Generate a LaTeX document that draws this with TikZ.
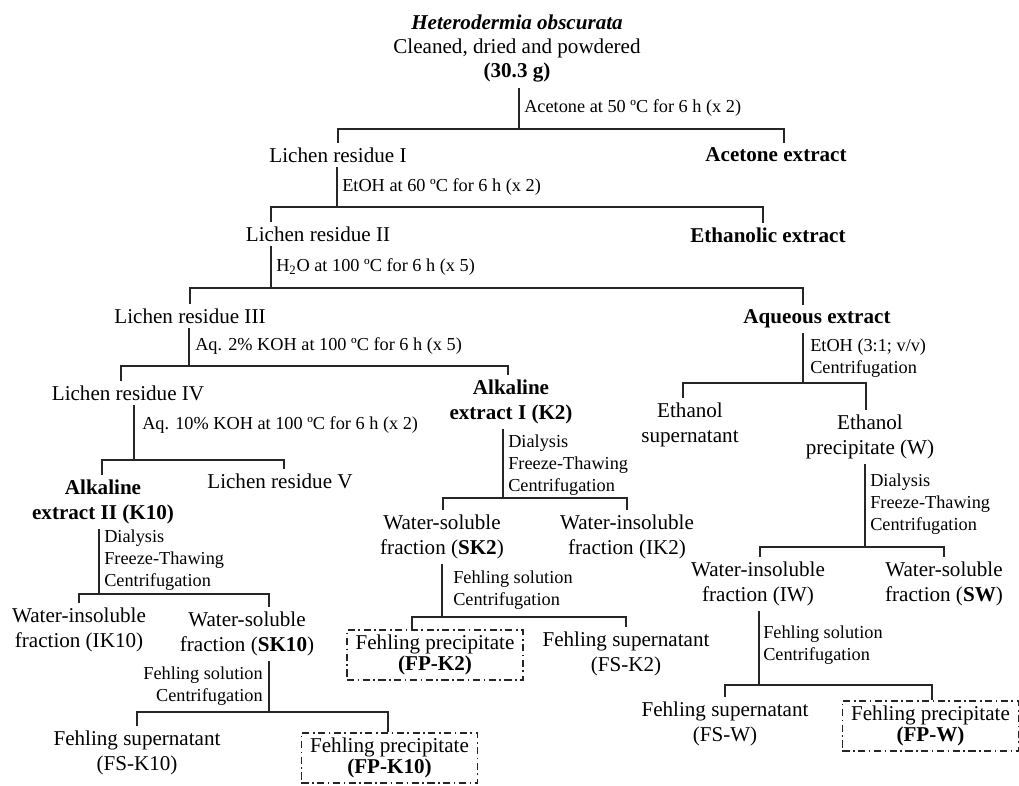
\documentclass[tikz,border=0pt]{standalone}
\usepackage{fontspec}
\setmainfont{Liberation Serif}
\newcommand{\mainsize}{\fontsize{15}{17.4}\selectfont}
\newcommand{\labelsize}{\fontsize{13}{15.5}\selectfont}

\begin{document}
\begin{tikzpicture}[x=0.025cm,y=-0.025cm,
                    link/.style={draw=black!85,line width=0.9pt},
                    main node/.style={font=\mainsize,align=center,inner sep=3.3pt},
                    bold node/.style={main node,font=\mainsize\bfseries},
                    cond label/.style={font=\labelsize,align=left,anchor=west,inner sep=0pt},
                    box node/.style={font=\fontsize{15}{15}\selectfont,align=center,draw=black!85,line width=1.1pt,
                                     dash pattern=on 5pt off 2.5pt on 1.2pt off 2.5pt,
                                     minimum width=4.4cm,minimum height=1.24cm,inner sep=0pt}]
  \useasboundingbox (0,0) rectangle (1019,785);

  \node[main node] (src) at (517,48.5) {\textbf{\textit{Heterodermia obscurata}}\\Cleaned, dried and powdered\\\textbf{(30.3 g)}};
  \node[main node] (res1) at (338,155) {Lichen residue I};
  \node[bold node] (acet) at (776,155) {Acetone extract};
  \node[main node] (res2) at (318,234) {Lichen residue II};
  \node[bold node] (ethx) at (768,235) {Ethanolic extract};
  \node[main node] (res3) at (190,316) {Lichen residue III};
  \node[bold node] (aqx) at (817,319) {Aqueous extract};
  \node[main node] (res4) at (128,393) {Lichen residue IV};
  \node[bold node] (alk1) at (511,402) {Alkaline\\extract I (K2)};
  \node[bold node] (alk2) at (103,502) {Alkaline\\extract II (K10)};
  \node[main node] (res5) at (280,481) {Lichen residue V};
  \node[main node] (ik10) at (79,630) {Water-insoluble\\fraction (IK10)};
  \node[main node] (sk10) at (247,634) {Water-soluble\\fraction (\textbf{SK10})};
  \node[main node] (fsk10) at (137,753) {Fehling supernatant\\(FS-K10)};
  \node[box node] (fpk10) at (389.5,758) {Fehling precipitate\\\textbf{(FP-K10)}};
  \node[main node] (sk2) at (442,537) {Water-soluble\\fraction (\textbf{SK2})};
  \node[main node] (ik2) at (627,537) {Water-insoluble\\fraction (IK2)};
  \node[box node] (fpk2) at (435,655) {Fehling precipitate\\\textbf{(FP-K2)}};
  \node[main node] (fsk2) at (626,654) {Fehling supernatant\\(FS-K2)};
  \node[main node] (etsup) at (690,425) {Ethanol\\supernatant};
  \node[main node] (etpre) at (870,437) {Ethanol\\precipitate (W)};
  \node[main node] (iw) at (758,584) {Water-insoluble\\fraction (IW)};
  \node[main node] (sw) at (944,584) {Water-soluble\\fraction (\textbf{SW})};
  \node[main node] (fsw) at (725,724) {Fehling supernatant\\(FS-W)};
  \node[box node] (fpw) at (930.5,726) {Fehling precipitate\\\textbf{(FP-W)}};

  % conditions on the stems
  \node[cond label] (c1) at (524,108) {Acetone at 50 ºC for 6 h (x 2)};
  \node[cond label] (c2) at (342,187.5) {EtOH at 60 ºC for 6 h (x 2)};
  \node[cond label] (c3) at (276,267.5) {H\textsubscript{2}O at 100 ºC for 6 h (x 5)};
  \node[cond label] (c4) at (195,346.5) {Aq. 2\% KOH at 100 ºC for 6 h (x 5)};
  \node[cond label] (c5) at (142,424.5) {Aq. 10\% KOH at 100 ºC for 6 h (x 2)};
  \node[cond label] (c6) at (104,560) {Dialysis\\Freeze-Thawing\\Centrifugation};
  \node[cond label,anchor=east,align=right] (c7) at (263,686) {Fehling solution\\Centrifugation};
  \node[cond label] (c8) at (508,465) {Dialysis\\Freeze-Thawing\\Centrifugation};
  \node[cond label] (c9) at (453,590) {Fehling solution\\Centrifugation};
  \node[cond label] (c10) at (810,358) {EtOH (3:1; v/v)\\Centrifugation};
  \node[cond label] (c11) at (870,504) {Dialysis\\Freeze-Thawing\\Centrifugation};
  \node[cond label] (c12) at (763,645) {Fehling solution\\Centrifugation};

  % branch points
  \coordinate (j1) at (519,129);
  \coordinate (j2) at (337,207);
  \coordinate (j3) at (271,288);
  \coordinate (j4) at (189,366);
  \coordinate (j5) at (134,460);
  \coordinate (j6) at (99,594);
  \coordinate (j7) at (269,712);
  \coordinate (j8) at (503,498);
  \coordinate (j9) at (442,617);
  \coordinate (j10) at (803,383);
  \coordinate (j11) at (865,547);
  \coordinate (j12) at (759,685);

  \draw[link] (src.south -| j1) -- (j1);
  \draw[link] (res1.north -| 338,0) |- (j1) -| (acet.north -| 784,0);
  \draw[link] (res1.south -| j2) -- (j2);
  \draw[link] (res2.north -| 271,0) |- (j2) -| (ethx.north -| 763,0);
  \draw[link] (res2.south -| j3) -- (j3);
  \draw[link] (res3.north -| 190,0) |- (j3) -| (aqx.north -| 803,0);
  \draw[link] (res3.south -| j4) -- (j4);
  \draw[link] (res4.north -| 121,0) |- (j4) -| (alk1.north -| 508,0);
  \draw[link] (res4.south -| j5) -- (j5);
  \draw[link] (alk2.north -| 102,0) |- (j5) -| (res5.north -| 284,0);
  \draw[link] (alk2.south -| j6) -- (j6);
  \draw[link] (ik10.north -| 79,0) |- (j6) -| (sk10.north -| 269,0);
  \draw[link] (sk10.south -| j7) -- (j7);
  \draw[link] (fsk10.north -| 137,0) |- (j7) -| (fpk10.north -| 388,0);
  \draw[link] (alk1.south -| j8) -- (j8);
  \draw[link] (sk2.north -| 443,0) |- (j8) -| (ik2.north -| 627,0);
  \draw[link] (sk2.south -| j9) -- (j9);
  \draw[link] (fpk2.north -| 412,0) |- (j9) -| (fsk2.north -| 626,0);
  \draw[link] (aqx.south -| j10) -- (j10);
  \draw[link] (etsup.north -| 683,0) |- (j10) -| (etpre.north -| 866,0);
  \draw[link] (etpre.south -| j11) -- (j11);
  \draw[link] (iw.north -| 760,0) |- (j11) -| (sw.north -| 944,0);
  \draw[link] (iw.south -| j12) -- (j12);
  \draw[link] (fsw.north -| 725,0) |- (j12) -| (fpw.north -| 932,0);
\end{tikzpicture}
\end{document}
